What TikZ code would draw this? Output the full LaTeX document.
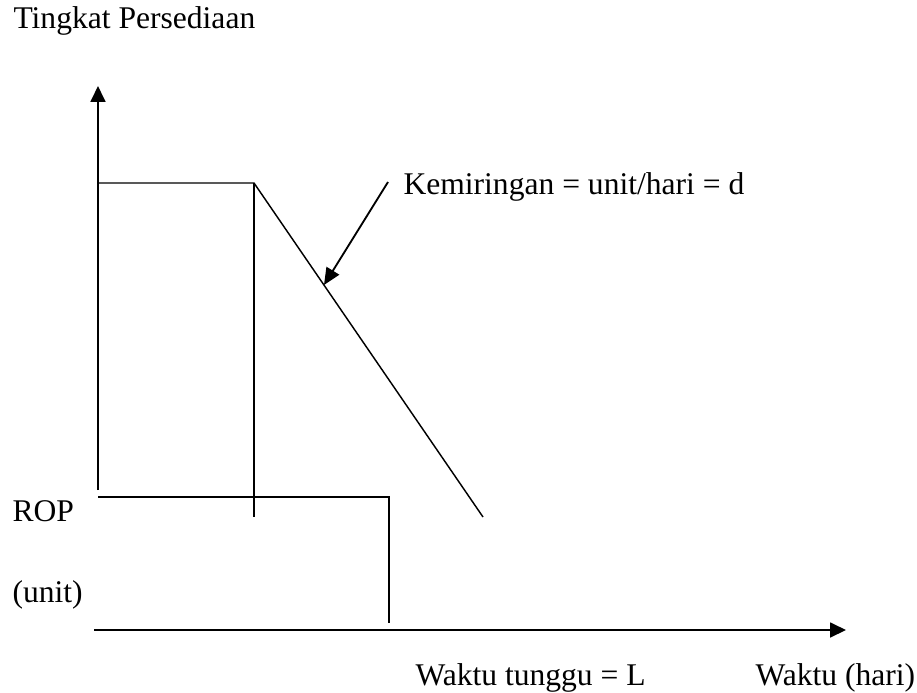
\documentclass[tikz,border=0pt]{standalone}
\usepackage{fontspec}
\setmainfont{Liberation Serif}
\usetikzlibrary{positioning,arrows.meta}

\begin{document}
\begin{tikzpicture}[
  x=0.38pt,y=-0.38pt,
  every node/.style={font=\fontsize{12}{14}\selectfont,inner sep=0pt,anchor=base west},
  axis/.style={line width=0.76pt,-{Triangle[length=6pt,width=5.6pt]}},
  curve/.style={line width=0.55pt},
  pointer/.style={line width=0.7pt,-{Triangle[length=6.4pt,width=5.6pt]}}
]
\useasboundingbox (0,0) rectangle (917,692);

\coordinate (yfoot) at (98,490);
\coordinate (ytip) at (98,86);
\coordinate (xfoot) at (94,630);
\coordinate (xtip) at (846,630);
\coordinate (qtop) at (98,183);
\coordinate (order) at (254,183);
\coordinate (orderlow) at (254,517);
\coordinate (slopeend) at (483,517);
\coordinate (ropleft) at (98,497);
\coordinate (ropright) at (389,497);
\coordinate (ropdown) at (389,623);
\coordinate (pointfrom) at (388,182);
\coordinate (pointto) at (324,285);

\node (ylabel) at (13,29) {Tingkat Persediaan};
\node (slope) at (403,194) {Kemiringan = unit/hari = d};
\node (rop) at (12,521) {ROP};
\node (unit) at (12,602) {(unit)};
\node (lead) at (415,685) {Waktu tunggu = L};
\node (xlabel) at (755,685) {Waktu (hari)};

\draw[axis] (yfoot) -- (ytip);
\draw[axis] (xfoot) -- (xtip);
\draw[curve] (qtop) -- (order) -- (slopeend);
\draw[curve] (order) -- (orderlow);
\draw[curve] (ropleft) -- (ropright) -- (ropdown);
\draw[pointer] (pointfrom) -- (pointto);
\end{tikzpicture}
\end{document}
